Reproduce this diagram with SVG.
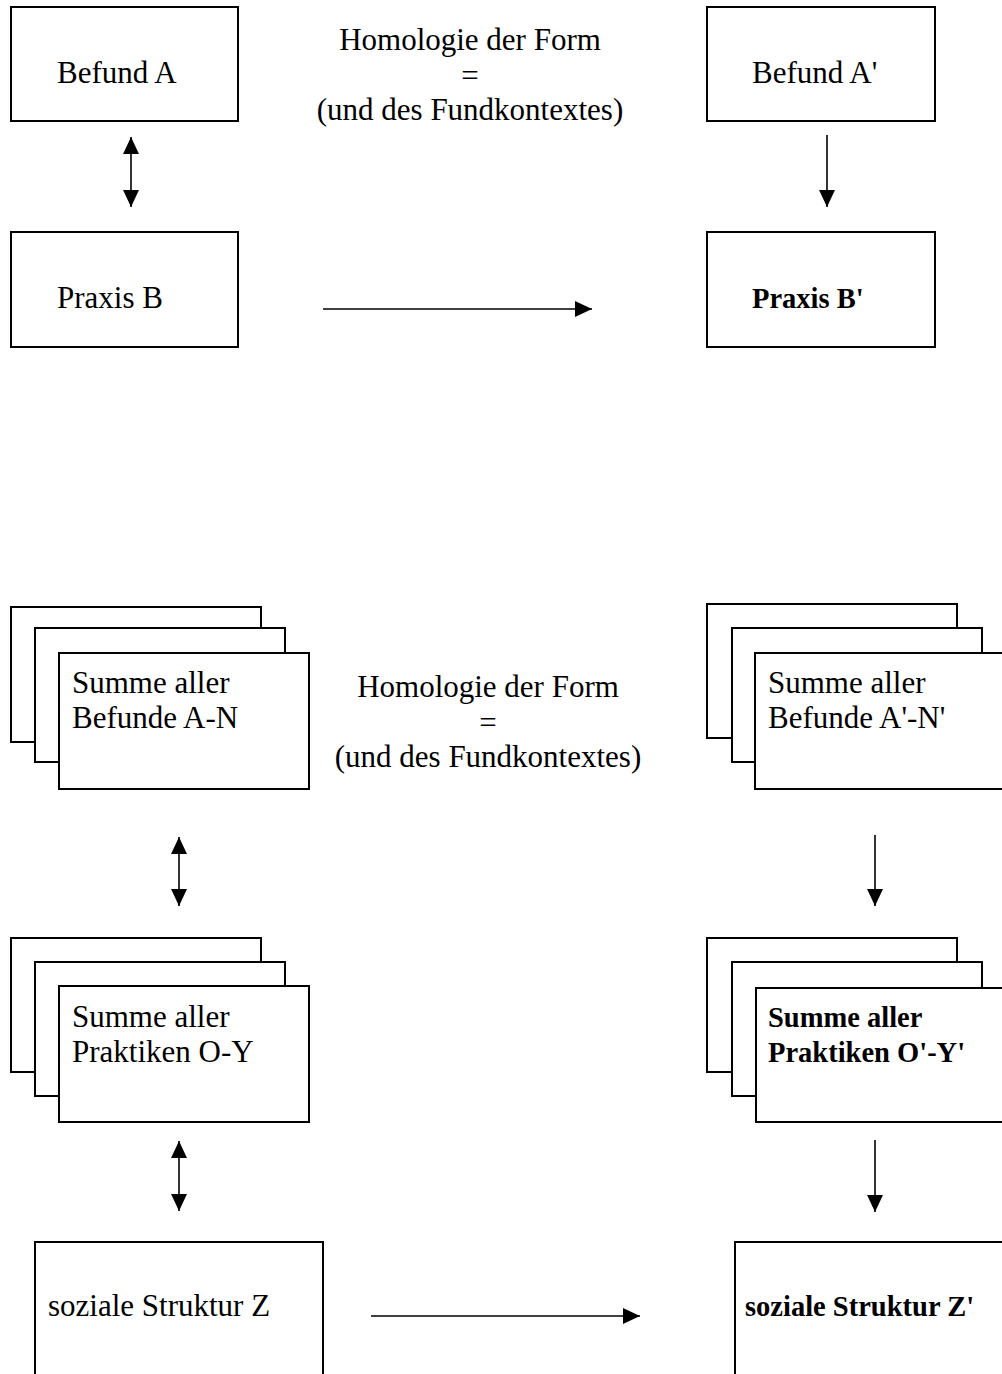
<svg xmlns="http://www.w3.org/2000/svg" width="1002" height="1374" viewBox="0 0 1002 1374">
<style>
.box{fill:#fff;stroke:#000;stroke-width:2}
.t{font-family:"Liberation Serif","Times New Roman",serif;font-size:31px;fill:#000}
.b{font-weight:bold;font-size:28.5px}
.c{text-anchor:middle}
.ln{stroke:#000;stroke-width:1.6;fill:none}
</style>
<defs>
<marker id="ah" markerUnits="userSpaceOnUse" markerWidth="17" markerHeight="16" refX="16" refY="7.5" orient="auto-start-reverse" viewBox="0 0 16 15">
<path d="M0,0 L16,7.5 L0,15 z" fill="#000"/>
</marker>
</defs>
<rect width="1002" height="1374" fill="#fff"/>

<g id="befundA"><rect class="box" x="11" y="7" width="227" height="114"/><text class="t" x="57" y="83">Befund A</text></g>
<g id="praxisB"><rect class="box" x="11" y="232" width="227" height="115"/><text class="t" x="57" y="308">Praxis B</text></g>
<g id="befundA2"><rect class="box" x="707" y="7" width="228" height="114"/><text class="t" x="752" y="83">Befund A'</text></g>
<g id="praxisB2"><rect class="box" x="707" y="232" width="228" height="115"/><text class="t b" x="752" y="308">Praxis B'</text></g>
<g id="homologie1"><text class="t c" x="470" y="50">Homologie der Form</text><text class="t c" x="470" y="86">=</text><text class="t c" x="470" y="120">(und des Fundkontextes)</text></g>

<g id="summeBefunde"><rect class="box" x="11" y="607" width="250" height="135"/><rect class="box" x="35" y="628" width="250" height="134"/><rect class="box" x="59" y="653" width="250" height="136"/><text class="t" x="72" y="693">Summe aller</text><text class="t" x="72" y="728">Befunde A-N</text></g>
<g id="summeBefunde2"><rect class="box" x="707" y="604" width="250" height="134"/><rect class="box" x="732" y="628" width="250" height="134"/><rect class="box" x="755" y="653" width="260" height="136"/><text class="t" x="768" y="693">Summe aller</text><text class="t" x="768" y="728">Befunde A'-N'</text></g>
<g id="homologie2"><text class="t c" x="488" y="697">Homologie der Form</text><text class="t c" x="488" y="733">=</text><text class="t c" x="488" y="767">(und des Fundkontextes)</text></g>

<g id="summePraktiken"><rect class="box" x="11" y="938" width="250" height="134"/><rect class="box" x="35" y="962" width="250" height="134"/><rect class="box" x="59" y="986" width="250" height="136"/><text class="t" x="72" y="1027">Summe aller</text><text class="t" x="72" y="1062">Praktiken O-Y</text></g>
<g id="summePraktiken2"><rect class="box" x="707" y="938" width="250" height="134"/><rect class="box" x="732" y="962" width="250" height="134"/><rect class="box" x="756" y="988" width="260" height="134"/><text class="t b" x="768" y="1027">Summe aller</text><text class="t b" x="768" y="1062">Praktiken O'-Y'</text></g>

<g id="struktur"><rect class="box" x="35" y="1242" width="288" height="150"/><text class="t" x="48" y="1316">soziale Struktur Z</text></g>
<g id="struktur2"><rect class="box" x="735" y="1242" width="290" height="150"/><text class="t b" x="745" y="1316">soziale Struktur Z'</text></g>

<g id="connectors">
<line class="ln" x1="131" y1="137" x2="131" y2="207" marker-start="url(#ah)" marker-end="url(#ah)"/>
<line class="ln" x1="827" y1="135" x2="827" y2="207" marker-end="url(#ah)"/>
<line class="ln" x1="323" y1="309" x2="592" y2="309" marker-end="url(#ah)"/>
<line class="ln" x1="179" y1="837" x2="179" y2="906" marker-start="url(#ah)" marker-end="url(#ah)"/>
<line class="ln" x1="875" y1="835" x2="875" y2="906" marker-end="url(#ah)"/>
<line class="ln" x1="179" y1="1141" x2="179" y2="1211" marker-start="url(#ah)" marker-end="url(#ah)"/>
<line class="ln" x1="875" y1="1140" x2="875" y2="1212" marker-end="url(#ah)"/>
<line class="ln" x1="371" y1="1316" x2="640" y2="1316" marker-end="url(#ah)"/>
</g>
</svg>
